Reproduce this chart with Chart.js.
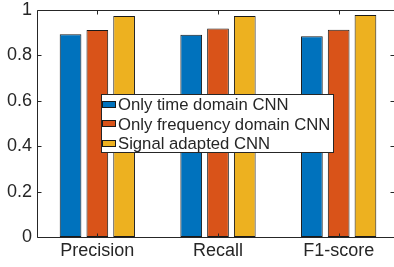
<!DOCTYPE html>
<html><head><meta charset="utf-8">
<script src="https://cdn.jsdelivr.net/npm/chart.js@4/dist/chart.umd.min.js"></script>
<style>
html,body{margin:0;padding:0;background:#fff;overflow:hidden;width:394px;height:267px;}
canvas{display:block;}
</style></head><body>
<canvas id="c" width="394" height="267"></canvas>
<script>
const categories = ['Precision', 'Recall', 'F1-score'];
const seriesNames = ['Only time domain CNN', 'Only frequency domain CNN', 'Signal adapted CNN'];
const timeCNN = [0.893, 0.891, 0.884];
const freqCNN = [0.912, 0.919, 0.913];
const adaptedCNN = [0.974, 0.974, 0.978];
const yTickValues = [0, 0.2, 0.4, 0.6, 0.8, 1];
const yTickLabels = ['0', '0.2', '0.4', '0.6', '0.8', '1'];
const seriesColors = ['#0072BD', '#D95319', '#EDB120'];
const axisColor = '#262626';
const fontFamily = "'Liberation Sans', Arial, Helvetica, sans-serif";

const seriesValues = [timeCNN, freqCNN, adaptedCNN];

// The plot box of the original extends slightly beyond the right edge of the image.
const areaPlugin = {
  id: 'areaFix',
  afterLayout(chart) {
    const {x, y} = chart.scales;
    const ca = chart.chartArea;
    const targetRight = 399, targetTop = 10;
    ca.right = targetRight; ca.top = targetTop;
    ca.width = ca.right - ca.left; ca.height = ca.bottom - ca.top;
    x.right = targetRight; x.width = x.right - x.left;
    y.top = targetTop; y.height = y.bottom - y.top;
    x.configure(); y.configure();
  }
};

const boxPlugin = {
  id: 'matlabBox',
  afterDatasetsDraw(chart) {
    const {ctx, chartArea, scales} = chart;
    const {left, right, top, bottom} = chartArea;
    const L = Math.round(left) + 0.5, R = Math.round(right) - 0.5;
    const T = Math.round(top) + 0.5, B = Math.round(bottom) + 0.5;
    const tl = 4;
    ctx.save();
    ctx.strokeStyle = axisColor;
    ctx.lineWidth = 1;
    ctx.beginPath();
    ctx.moveTo(L, T); ctx.lineTo(R, T); ctx.lineTo(R, B); ctx.lineTo(L, B); ctx.closePath();
    yTickValues.forEach(v => {
      const py = Math.round(scales.y.getPixelForValue(v)) + 0.5;
      ctx.moveTo(L, py); ctx.lineTo(L + tl, py);
      ctx.moveTo(R, py); ctx.lineTo(R - tl - 4, py);
    });
    categories.forEach((c, i) => {
      const px = Math.round(scales.x.getPixelForValue(i)) + 0.5;
      ctx.moveTo(px, B); ctx.lineTo(px, B - tl);
      ctx.moveTo(px, T); ctx.lineTo(px, T + tl);
    });
    ctx.stroke();
    ctx.restore();
  }
};

const legendPlugin = {
  id: 'insideLegend',
  afterDraw(chart) {
    const {ctx} = chart;
    const bx = 101, by = 94, bw = 233, bh = 59;
    const rowH = 19.6, firstRow = 104;
    ctx.save();
    ctx.fillStyle = '#fff';
    ctx.fillRect(bx, by, bw, bh);
    ctx.strokeStyle = axisColor;
    ctx.lineWidth = 1;
    ctx.strokeRect(bx + 0.5, by + 0.5, bw - 1, bh - 1);
    ctx.font = "16.7px " + fontFamily;
    ctx.textBaseline = 'alphabetic';
    ctx.textAlign = 'left';
    chart.data.datasets.forEach((ds, i) => {
      const cy = firstRow + i * rowH;
      const sy = Math.round(cy - 3.5);
      ctx.fillStyle = ds.backgroundColor;
      ctx.fillRect(102, sy, 14, 7);
      ctx.strokeStyle = '#1a1a1a';
      ctx.strokeRect(102.5, sy + 0.5, 13, 6);
      ctx.fillStyle = axisColor;
      ctx.fillText(ds.label, 118, cy + 6);
    });
    ctx.restore();
  }
};

new Chart(document.getElementById('c'), {
  type: 'bar',
  data: {
    labels: categories,
    datasets: seriesValues.map((vals, i) => ({
      label: seriesNames[i],
      data: vals,
      backgroundColor: seriesColors[i],
      borderColor: '#1a1a1a',
      borderWidth: 1,
      borderSkipped: false,
      categoryPercentage: 0.666,
      barPercentage: 0.81
    }))
  },
  options: {
    responsive: false,
    animation: false,
    devicePixelRatio: 1,
    layout: {padding: {top: 6, right: 0, left: 0, bottom: 0}},
    plugins: {legend: {display: false}, tooltip: {enabled: false}},
    scales: {
      x: {
        offset: true,
        grid: {display: false, drawTicks: false},
        border: {display: false},
        ticks: {color: axisColor, font: {family: fontFamily, size: 18, lineHeight: 1}, padding: 5, maxRotation: 0, autoSkip: false},
        afterFit(s) { s.height = 30; }
      },
      y: {
        min: 0, max: 1,
        afterBuildTicks(s) { s.ticks = yTickValues.map(v => ({value: v})); },
        grid: {display: false, drawTicks: false},
        border: {display: false},
        ticks: {
          color: axisColor,
          font: {family: fontFamily, size: 18, lineHeight: 1},
          padding: 5,
          callback: (v) => yTickLabels[yTickValues.indexOf(v)]
        },
        afterFit(s) { s.width = 37; }
      }
    }
  },
  plugins: [areaPlugin, boxPlugin, legendPlugin]
});
</script>
</body></html>
